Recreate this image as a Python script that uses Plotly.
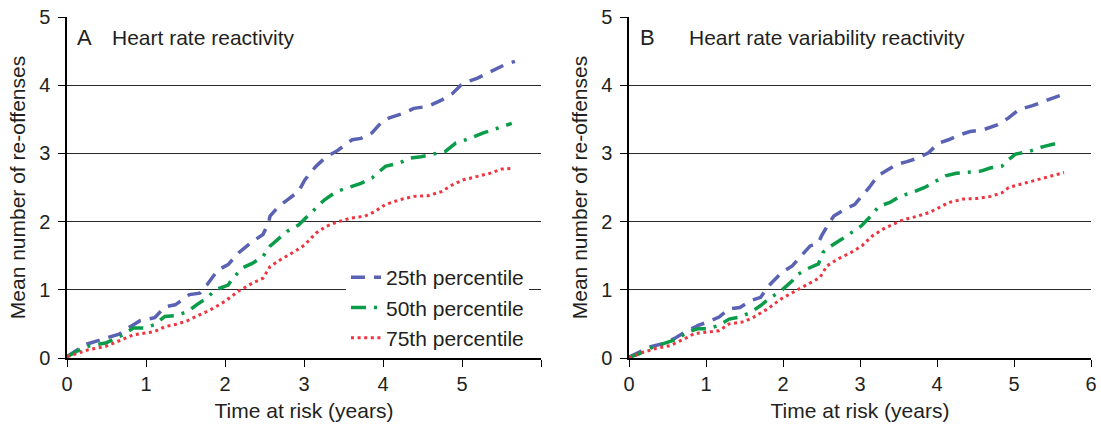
import plotly.graph_objects as go

# ---------------- data ----------------
series_names = ["25th percentile", "50th percentile", "75th percentile"]
series_colors = ["#5a62b3", "#0a9c48", "#ee3440"]
series_dash = ["14px,9px", "15px,8px,3px,8px", "3px,3.6px"]
series_width = [3.5, 3.5, 3.0]

# Panel A: Heart rate reactivity
a_25_x = [0, 0.24, 0.49, 0.66, 0.8, 0.93, 1.11, 1.24, 1.37, 1.55, 1.68, 1.77, 1.91, 2.04, 2.17, 2.35, 2.48, 2.55, 2.57, 2.66, 2.79, 2.93, 3.01, 3.15, 3.28, 3.41, 3.55, 3.61, 3.72, 3.86, 3.99, 4.08, 4.26, 4.39, 4.57, 4.74, 4.88, 5.01, 5.19, 5.36, 5.54, 5.67]
a_25_y = [0.02, 0.2, 0.29, 0.35, 0.46, 0.55, 0.59, 0.75, 0.78, 0.93, 0.95, 1.07, 1.29, 1.37, 1.54, 1.71, 1.81, 1.98, 2.08, 2.2, 2.32, 2.44, 2.61, 2.81, 2.95, 3.03, 3.15, 3.2, 3.22, 3.3, 3.47, 3.52, 3.59, 3.66, 3.69, 3.78, 3.88, 4.03, 4.1, 4.2, 4.3, 4.35]
a_50_x = [0, 0.24, 0.49, 0.69, 0.84, 0.98, 1.11, 1.24, 1.37, 1.53, 1.64, 1.77, 1.88, 2.04, 2.1, 2.22, 2.35, 2.48, 2.57, 2.7, 2.79, 2.93, 3.06, 3.26, 3.41, 3.55, 3.72, 3.86, 4.03, 4.21, 4.34, 4.48, 4.65, 4.79, 4.92, 5.1, 5.27, 5.45, 5.63]
a_50_y = [0.02, 0.17, 0.22, 0.33, 0.44, 0.44, 0.49, 0.61, 0.62, 0.68, 0.78, 0.88, 1.0, 1.07, 1.17, 1.32, 1.39, 1.49, 1.64, 1.78, 1.86, 1.95, 2.1, 2.32, 2.44, 2.49, 2.56, 2.64, 2.81, 2.86, 2.93, 2.95, 3.0, 3.03, 3.15, 3.22, 3.3, 3.37, 3.44]
a_75_x = [0, 0.27, 0.49, 0.69, 0.84, 1.02, 1.11, 1.24, 1.37, 1.51, 1.64, 1.82, 2.0, 2.17, 2.35, 2.48, 2.57, 2.7, 2.88, 3.01, 3.15, 3.28, 3.41, 3.59, 3.77, 3.9, 4.03, 4.21, 4.39, 4.57, 4.74, 4.88, 5.01, 5.19, 5.36, 5.5, 5.63]
a_75_y = [0.02, 0.12, 0.17, 0.27, 0.34, 0.37, 0.39, 0.46, 0.49, 0.54, 0.61, 0.71, 0.83, 0.98, 1.1, 1.17, 1.34, 1.44, 1.56, 1.66, 1.83, 1.93, 1.99, 2.05, 2.08, 2.15, 2.25, 2.32, 2.37, 2.38, 2.44, 2.54, 2.61, 2.66, 2.71, 2.77, 2.78]

# Panel B: Heart rate variability reactivity
b_25_x = [0, 0.08, 0.26, 0.44, 0.58, 0.76, 0.9, 1.03, 1.17, 1.3, 1.44, 1.58, 1.71, 1.8, 1.98, 2.12, 2.21, 2.35, 2.46, 2.5, 2.6, 2.66, 2.8, 2.93, 3.02, 3.12, 3.23, 3.34, 3.48, 3.61, 3.75, 3.89, 4.02, 4.15, 4.29, 4.43, 4.61, 4.79, 4.93, 5.06, 5.24, 5.43, 5.61, 5.7]
b_25_y = [0.01, 0.06, 0.16, 0.21, 0.28, 0.4, 0.48, 0.53, 0.6, 0.72, 0.74, 0.84, 0.89, 1.04, 1.25, 1.35, 1.47, 1.64, 1.69, 1.79, 1.98, 2.08, 2.18, 2.25, 2.37, 2.5, 2.67, 2.74, 2.84, 2.88, 2.93, 3.01, 3.15, 3.2, 3.27, 3.32, 3.35, 3.42, 3.52, 3.64, 3.7, 3.78, 3.86, 3.89]
b_50_x = [0, 0.13, 0.31, 0.49, 0.63, 0.76, 0.9, 1.03, 1.17, 1.3, 1.44, 1.58, 1.71, 1.84, 1.96, 2.12, 2.17, 2.3, 2.46, 2.52, 2.62, 2.76, 2.89, 3.02, 3.14, 3.25, 3.39, 3.52, 3.66, 3.84, 3.98, 4.11, 4.25, 4.43, 4.57, 4.7, 4.84, 4.93, 5.02, 5.2, 5.38, 5.56]
b_50_y = [0.01, 0.06, 0.16, 0.23, 0.28, 0.38, 0.43, 0.43, 0.48, 0.57, 0.6, 0.67, 0.77, 0.89, 0.97, 1.13, 1.21, 1.3, 1.38, 1.55, 1.64, 1.74, 1.84, 1.94, 2.08, 2.23, 2.28, 2.37, 2.42, 2.5, 2.59, 2.67, 2.71, 2.73, 2.74, 2.79, 2.81, 2.91, 2.99, 3.03, 3.1, 3.15]
b_75_x = [0, 0.17, 0.35, 0.53, 0.72, 0.85, 1.03, 1.17, 1.3, 1.49, 1.62, 1.8, 1.98, 2.17, 2.35, 2.48, 2.57, 2.71, 2.89, 3.03, 3.16, 3.3, 3.43, 3.57, 3.75, 3.89, 4.02, 4.15, 4.34, 4.52, 4.7, 4.84, 4.93, 5.06, 5.24, 5.43, 5.65]
b_75_y = [0.0, 0.08, 0.14, 0.18, 0.28, 0.36, 0.38, 0.4, 0.5, 0.53, 0.6, 0.72, 0.87, 0.99, 1.11, 1.18, 1.35, 1.45, 1.55, 1.65, 1.79, 1.89, 1.96, 2.03, 2.08, 2.13, 2.2, 2.28, 2.33, 2.34, 2.37, 2.42, 2.5, 2.54, 2.59, 2.65, 2.72]

x_ticks = [0, 1, 2, 3, 4, 5, 6]
x_ticktext_a = ["0", "1", "2", "3", "4", "5", ""]
x_ticktext_b = ["0", "1", "2", "3", "4", "5", "6"]
y_ticks = [0, 1, 2, 3, 4, 5]
panel_letters = ["A", "B"]
panel_titles = ["Heart rate reactivity", "Heart rate variability reactivity"]
x_title = "Time at risk (years)"
y_title = "Mean number of re-offenses"

# ---------------- figure ----------------
W, H = 1101, 426
FONT = "Liberation Sans, Arial, Helvetica, sans-serif"
TXT = "#231f20"
fig = go.Figure()

TOP, BOT = 17, 358
PH = BOT - TOP


def px_x(p):
    return p / W


def px_y(p):
    return 1 - (p - TOP) / PH


panel_data = [
    [(a_25_x, a_25_y), (a_50_x, a_50_y), (a_75_x, a_75_y)],
    [(b_25_x, b_25_y), (b_50_x, b_50_y), (b_75_x, b_75_y)],
]
axes = [("x", "y"), ("x2", "y2")]
for p, (xa, ya) in enumerate(axes):
    for i, (xs, ys) in enumerate(panel_data[p]):
        fig.add_trace(go.Scatter(
            x=xs, y=ys, mode="lines", name=series_names[i],
            xaxis=xa, yaxis=ya, showlegend=(p == 0),
            line=dict(color=series_colors[i], width=series_width[i],
                      dash=series_dash[i]),
        ))

dom_a = [px_x(67), px_x(541)]
dom_b = [px_x(629), px_x(1091)]

axis_common = dict(
    showline=True, linecolor="black", linewidth=1.5,
    ticks="outside", ticklen=7, tickwidth=1.3, tickcolor="black",
    tickfont=dict(size=20, color=TXT, family=FONT),
    mirror=False, zeroline=False, ticklabeloverflow="allow",
)
xcommon = dict(axis_common, range=[0, 6], tickvals=x_ticks, showgrid=False,
               title=dict(text=x_title, font=dict(size=21, color=TXT, family=FONT), standoff=10))
ycommon = dict(axis_common, range=[0, 5], tickvals=y_ticks, showgrid=True,
               gridcolor="#2a2a2a", gridwidth=1.4, ticklabelstandoff=4,
               title=dict(text=y_title, font=dict(size=21, color=TXT, family=FONT), standoff=8))

fig.update_layout(
    width=W, height=H,
    margin=dict(l=0, r=0, t=TOP, b=H - BOT, autoexpand=False),
    paper_bgcolor="white", plot_bgcolor="white",
    xaxis=dict(xcommon, domain=dom_a, ticktext=x_ticktext_a, anchor="y"),
    yaxis=dict(ycommon, domain=[0, 1], anchor="x"),
    xaxis2=dict(xcommon, domain=dom_b, ticktext=x_ticktext_b, anchor="y2"),
    yaxis2=dict(ycommon, domain=[0, 1], anchor="x2"),
    legend=dict(
        x=px_x(346), y=px_y(257), xanchor="left", yanchor="top",
        bgcolor="white", borderwidth=0,
        font=dict(size=21, color=TXT, family=FONT),
        tracegroupgap=0, itemwidth=30,
    ),
    showlegend=True,
)

ann_y = px_y(38)
letter_x = [px_x(75), px_x(638)]
title_x = [px_x(110), px_x(687)]
for p in range(2):
    fig.add_annotation(text=panel_letters[p], x=letter_x[p], y=ann_y, xref="paper", yref="paper",
                       xanchor="left", yanchor="middle", showarrow=False,
                       font=dict(size=22, color=TXT, family=FONT))
    fig.add_annotation(text=panel_titles[p], x=title_x[p], y=ann_y, xref="paper", yref="paper",
                       xanchor="left", yanchor="middle", showarrow=False,
                       font=dict(size=21, color=TXT, family=FONT))

fig.write_html("out.html", config={"displayModeBar": False},
               post_script="document.body.style.margin='0';document.body.style.overflow='hidden';")
